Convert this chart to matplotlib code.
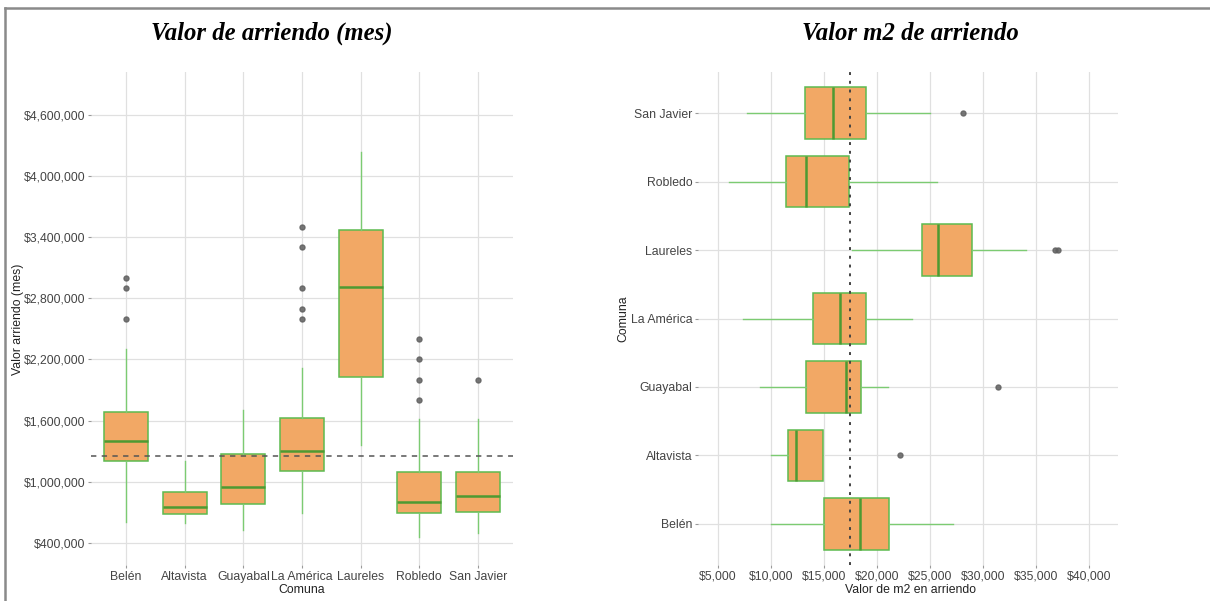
import matplotlib
matplotlib.use("Agg")
import matplotlib.pyplot as plt
from matplotlib.lines import Line2D
from matplotlib.ticker import FuncFormatter

# ---------------- data ----------------
comunas_left = ["Belén", "Altavista", "Guayabal", "La América", "Laureles", "Robledo", "San Javier"]
arr_whislo = [606000, 596000, 525000, 689000, 1360000, 459000, 492000]
arr_q1     = [1203000, 679000, 780000, 1101000, 2031000, 689000, 705000]
arr_med    = [1402000, 748000, 950000, 1301000, 2909000, 803000, 862000]
arr_q3     = [1687000, 898000, 1271000, 1622000, 3475000, 1094000, 1094000]
arr_whishi = [2300000, 1203000, 1703000, 2113000, 4240000, 1620000, 1620000]
arr_fliers = [[3000000, 2900000, 2600000], [], [], [3500000, 3300000, 2900000, 2700000, 2600000],
              [], [2400000, 2200000, 2000000, 1800000], [2000000]]
arr_ref = 1250000
arr_yticks = [400000, 1000000, 1600000, 2200000, 2800000, 3400000, 4000000, 4600000]

comunas_right = ["Belén", "Altavista", "Guayabal", "La América", "Laureles", "Robledo", "San Javier"]
m2_whislo = [10000, 10000, 8990, 7415, 17640, 6070, 7740]
m2_q1     = [15000, 11660, 13360, 13990, 24300, 11440, 13240]
m2_med    = [18420, 12390, 17080, 16540, 25810, 13360, 15880]
m2_q3     = [21130, 14960, 18520, 18990, 28960, 17420, 18990]
m2_whishi = [27170, 14960, 21040, 23300, 34060, 25660, 25030]
m2_fliers = [[], [22240], [31470], [], [36820, 37130], [], [28170]]
m2_ref = 17480
m2_xticks = [5000, 10000, 15000, 20000, 25000, 30000, 35000, 40000]

# ---------------- style ----------------
FILL = "#F2A865"
EDGE = "#5DBB4F"
WHISK = "#7CCB72"
MED = "#4E9A32"
GRID = "#E0E0E0"
TICKC = "#444444"
SANS = "Liberation Sans"

fig = plt.figure(figsize=(12.1, 6.01), dpi=100)

def make_stats(wl, q1, med, q3, wh, fl):
    return [dict(whislo=a, q1=b, med=c, q3=d, whishi=e, fliers=f)
            for a, b, c, d, e, f in zip(wl, q1, med, q3, wh, fl)]

props = dict(
    patch_artist=True, widths=0.75, showcaps=False,
    boxprops=dict(facecolor=FILL, edgecolor=EDGE, linewidth=1.1),
    whiskerprops=dict(color=WHISK, linewidth=1.0),
    medianprops=dict(color=MED, linewidth=1.8),
    flierprops=dict(marker="o", markersize=3.6, markerfacecolor="#606060",
                    markeredgecolor="#606060", alpha=0.85),
)

def style_axes(ax):
    for s in ax.spines.values():
        s.set_visible(False)
    ax.tick_params(length=2.5, width=0.8, color="#9a9a9a", pad=1.5,
                   labelsize=8.8, labelcolor=TICKC)
    for lab in ax.get_xticklabels() + ax.get_yticklabels():
        lab.set_fontfamily(SANS)
    ax.set_axisbelow(True)

# ---------------- left panel ----------------
axL = fig.add_axes([91/1210, 1-565/601, 422/1210, 493/601])
stats = make_stats(arr_whislo, arr_q1, arr_med, arr_q3, arr_whishi, arr_fliers)
pos = list(range(1, len(comunas_left)+1))
axL.bxp(stats, positions=pos, **props)
axL.axhline(arr_ref, color="#555555", linestyle=(0, (3.5, 3.5)), linewidth=1.1, zorder=5)
axL.set_xlim(0.4, len(comunas_left)+0.6)
axL.set_ylim(181000, 5024000)
axL.set_yticks(arr_yticks)
axL.yaxis.set_major_formatter(FuncFormatter(lambda v, p: "${:,.0f}".format(v)))
axL.set_xticks(pos)
axL.set_xticklabels(comunas_left)
axL.grid(True, color=GRID, linewidth=0.9)
style_axes(axL)

# ---------------- right panel ----------------
axR = fig.add_axes([698/1210, 1-565/601, 420/1210, 493/601])
stats2 = make_stats(m2_whislo, m2_q1, m2_med, m2_q3, m2_whishi, m2_fliers)
pos2 = list(range(1, len(comunas_right)+1))
axR.bxp(stats2, positions=pos2, vert=False, **props)
axR.axvline(m2_ref, color="#444444", linestyle=(0, (1.5, 3.0)), linewidth=1.4, zorder=5)
axR.set_ylim(0.4, len(comunas_right)+0.6)
axR.set_xlim(3142, 42764)
axR.set_xticks(m2_xticks)
axR.xaxis.set_major_formatter(FuncFormatter(lambda v, p: "${:,.0f}".format(v)))
axR.set_yticks(pos2)
axR.set_yticklabels(comunas_right)
axR.grid(True, color=GRID, linewidth=0.9)
style_axes(axR)

# ---------------- texts ----------------
tfont = dict(family="Liberation Serif", weight="bold", style="italic", size=17.8, color="black")
fig.text(272/1210, 1-33/601, "Valor de arriendo (mes)", ha="center", va="center", **tfont)
fig.text(910/1210, 1-33/601, "Valor m2 de arriendo", ha="center", va="center", **tfont)

lfont = dict(family=SANS, size=8.8, color="#222222")
fig.text(302/1210, 1-590/601, "Comuna", ha="center", va="center", **lfont)
fig.text(18/1210, 1-319/601, "Valor arriendo (mes)", ha="center", va="center", rotation=90, **lfont)
fig.text(910/1210, 1-590/601, "Valor de m2 en arriendo", ha="center", va="center", **lfont)
fig.text(623/1210, 1-319/601, "Comuna", ha="center", va="center", rotation=90, **lfont)

# frame lines (top and left)
fig.add_artist(Line2D([5/1210, 1.0], [1-8/601, 1-8/601], transform=fig.transFigure,
                      color="#8a8a8a", linewidth=1.8))
fig.add_artist(Line2D([5/1210, 5/1210], [1-8/601, 0.0], transform=fig.transFigure,
                      color="#8a8a8a", linewidth=1.8))

fig.savefig("out.png", dpi=100)
